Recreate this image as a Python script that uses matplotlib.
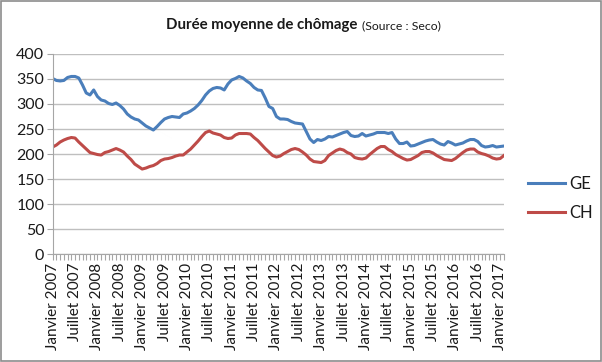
import matplotlib
matplotlib.use("Agg")
import matplotlib.pyplot as plt
from matplotlib.patches import Rectangle
from matplotlib.ticker import MultipleLocator

plt.rcParams["font.family"] = ["Lato", "DejaVu Sans"]

# monthly values, janvier 2007 -> fevrier 2017
ge = [
    351, 347, 346, 347, 353, 355, 355, 352, 338, 322, 318, 328,  # 2007
    315, 308, 306, 301, 299, 302, 297, 290, 280, 274, 270, 268,  # 2008
    262, 256, 252, 248, 255, 263, 270, 273, 275, 274, 273, 280,  # 2009
    282, 286, 291, 298, 307, 318, 326, 331, 333, 332, 328, 340,  # 2010
    348, 351, 355, 352, 346, 341, 333, 328, 327, 312, 295, 291,  # 2011
    275, 270, 270, 269, 265, 262, 261, 260, 245, 230, 223, 229,  # 2012
    227, 230, 235, 234, 237, 240, 243, 245, 237, 235, 236, 241,  # 2013
    236, 238, 240, 243, 243, 243, 241, 243, 230, 221, 221, 224,  # 2014
    216, 217, 220, 223, 226, 228, 229, 224, 220, 218, 225, 222,  # 2015
    218, 220, 222, 226, 229, 229, 225, 217, 214, 215, 217, 214,  # 2016
    215, 216,                                                    # 2017
]
ch = [
    214, 218, 224, 228, 231, 233, 232, 224, 217, 210, 203, 201,  # 2007
    199, 198, 203, 205, 208, 211, 208, 204, 196, 189, 180, 175,  # 2008
    170, 172, 175, 177, 181, 187, 190, 191, 193, 196, 198, 198,  # 2009
    204, 210, 218, 226, 235, 243, 246, 242, 240, 238, 233, 231,  # 2010
    232, 238, 241, 241, 241, 240, 233, 227, 219, 211, 204, 197,  # 2011
    194, 196, 201, 205, 209, 211, 209, 204, 198, 190, 185, 184,  # 2012
    183, 187, 197, 202, 207, 210, 208, 203, 200, 193, 191, 190,  # 2013
    192, 199, 205, 211, 215, 215, 209, 205, 199, 195, 191, 188,  # 2014
    189, 193, 197, 203, 205, 205, 202, 197, 193, 189, 188, 187,  # 2015
    191, 197, 203, 208, 210, 210, 204, 201, 199, 196, 192, 190,  # 2016
    191, 197,                                                    # 2017
]
tick_labels = [
    "Janvier 2007", "Juillet 2007", "Janvier 2008", "Juillet 2008",
    "Janvier 2009", "Juillet 2009", "Janvier 2010", "Juillet 2010",
    "Janvier 2011", "Juillet 2011", "Janvier 2012", "Juillet 2012",
    "Janvier 2013", "Juillet 2013", "Janvier 2014", "Juillet 2014",
    "Janvier 2015", "Juillet 2015", "Janvier 2016", "Juillet 2016",
    "Janvier 2017",
]

fig = plt.figure(figsize=(6.02, 3.62), dpi=100)
ax = fig.add_axes([0.0875, 0.298, 0.7495, 0.553])

months = range(len(ge))
ax.plot(months, ge, color="#4A7EBB", lw=2.2, label="GE", solid_joinstyle="round")
ax.plot(months, ch, color="#BE4B48", lw=2.2, label="CH", solid_joinstyle="round")

ax.set_xlim(0, len(ge) - 1)
ax.set_ylim(0, 400)
ax.yaxis.set_major_locator(MultipleLocator(50))
ax.set_xticks(range(0, len(ge), 6))
ax.set_xticklabels(tick_labels, rotation=90)
ax.xaxis.set_minor_locator(MultipleLocator(1))

ax.tick_params(axis="x", which="both", length=4, width=0.8, color="#A6A6A6",
               labelsize=11, labelcolor="#1a1a1a", pad=2)
ax.tick_params(axis="y", length=4, width=0.8, color="#A6A6A6", labelsize=11.5,
               labelcolor="#1a1a1a", pad=2)
ax.grid(axis="y", color="#BFBFBF", lw=1)
ax.set_axisbelow(True)
for side in ("top", "right"):
    ax.spines[side].set_visible(False)
for side in ("left", "bottom"):
    ax.spines[side].set_color("#A6A6A6")

fig.legend(loc="center left", bbox_to_anchor=(0.877, 0.452), frameon=False,
           fontsize=12, handlelength=2.2, handletextpad=0.25, labelspacing=0.75,
           borderpad=0, borderaxespad=0, labelcolor="#1a1a1a")

fig.text(0.594, 0.931, "Durée moyenne de chômage", ha="right", va="center",
         fontsize=10.8, fontweight="bold", color="#1a1a1a")
fig.text(0.601, 0.929, "(Source : Seco)", ha="left", va="center", fontsize=8.8,
         color="#1a1a1a")

fig.patches.append(Rectangle((0.002, 0.003), 0.996, 0.994, transform=fig.transFigure,
                             fill=False, edgecolor="#8C8C8C", lw=1.2))

fig.savefig("out.png", dpi=100)
